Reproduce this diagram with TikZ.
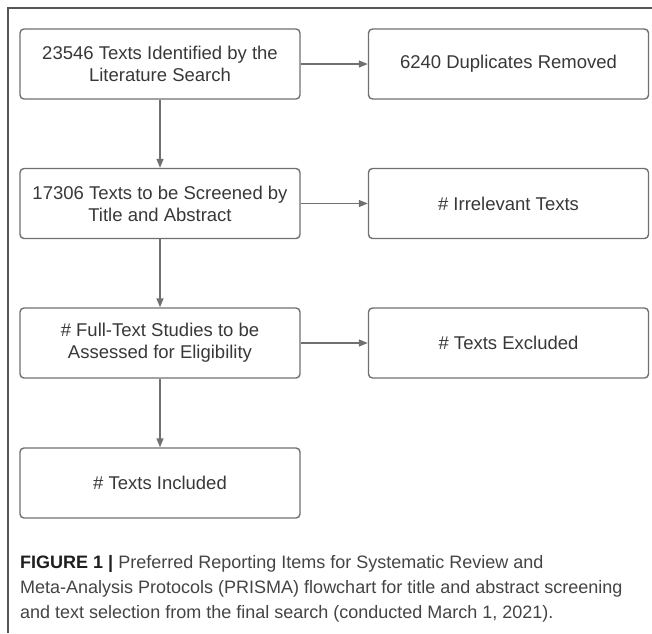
\documentclass[tikz,border=0pt]{standalone}
\usepackage{fontspec}
\setmainfont{Liberation Sans}
\usetikzlibrary{arrows.meta}
\definecolor{boxline}{HTML}{707070}
\definecolor{boxtext}{HTML}{383838}
\definecolor{captext}{HTML}{444444}
\definecolor{capbold}{HTML}{1E1E1E}
\definecolor{frameline}{HTML}{555555}
\tikzset{
  flowbox/.style={draw=boxline, line width=1.4pt, rounded corners=4pt,
    minimum width=280pt, minimum height=70pt, inner sep=0pt,
    align=center, text=boxtext, font=\fontsize{18.5}{22}\selectfont},
  flowarrow/.style={draw=boxline, line width=1.4pt,
    -{Triangle[length=9pt,width=7pt]}},
  captionline/.style={anchor=base west, inner sep=0pt, text=captext,
    font=\fontsize{18}{25}\selectfont}
}
\begin{document}
\begin{tikzpicture}[x=1pt,y=-1pt]
\useasboundingbox (0,0) rectangle (652,633);
\coordinate (ftop) at (652,8);
\coordinate (fcorner) at (8,8);
\coordinate (fbot) at (8,633);
\draw[frameline, line width=1.3pt] (ftop) -- (fcorner) -- (fbot);

\node[flowbox] (b1) at (160,64) {23546 Texts Identified by the\\Literature Search};
\node[flowbox] (b2) at (508.5,64) {6240 Duplicates Removed};
\node[flowbox] (b3) at (160,203.5) {17306 Texts to be Screened by\\Title and Abstract};
\node[flowbox] (b4) at (508.5,203.5) {\# Irrelevant Texts};
\node[flowbox] (b5) at (160,343) {\# Full-Text Studies to be\\Assessed for Eligibility};
\node[flowbox] (b6) at (508.5,343) {\# Texts Excluded};
\node[flowbox] (b7) at (160,483) {\# Texts Included};

\draw[flowarrow] (b1) -- (b2);
\draw[flowarrow] (b3) -- (b4);
\draw[flowarrow] (b5) -- (b6);
\draw[flowarrow] (b1) -- (b3);
\draw[flowarrow] (b3) -- (b5);
\draw[flowarrow] (b5) -- (b7);

\node[captionline] (c1) at (20,568) {\textcolor{capbold}{\textbf{FIGURE 1 |}} Preferred Reporting Items for Systematic Review and};
\node[captionline] (c2) at (20,593) {Meta-Analysis Protocols (PRISMA) flowchart for title and abstract screening};
\node[captionline] (c3) at (20,618) {and text selection from the final search (conducted March 1, 2021).};
\end{tikzpicture}
\end{document}
